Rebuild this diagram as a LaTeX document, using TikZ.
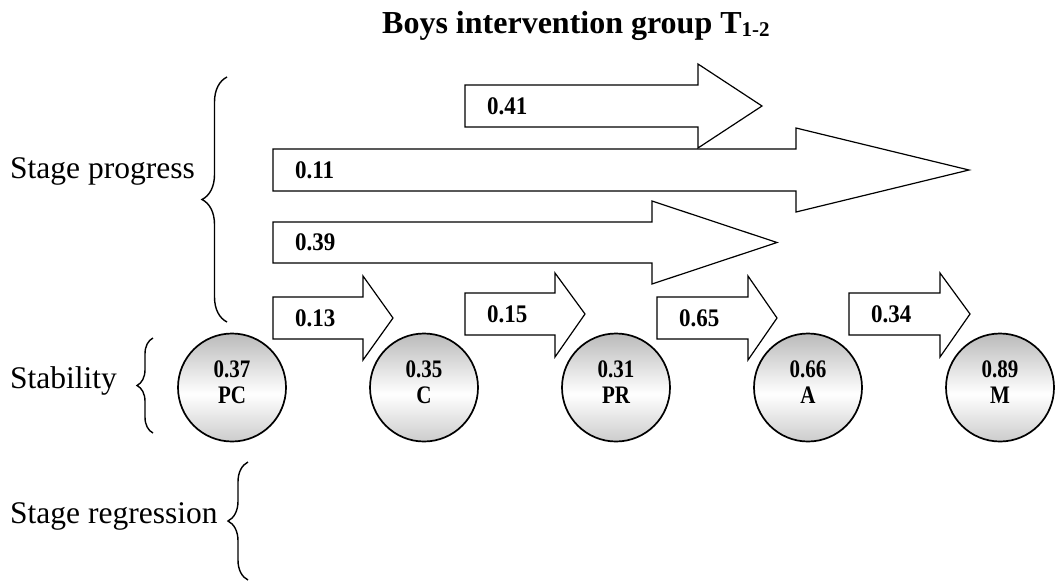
\documentclass[tikz,border=0pt]{standalone}
\usepackage{fontspec}
\setmainfont{Liberation Serif}
\usetikzlibrary{decorations.pathreplacing}
\pgfdeclareverticalshading{stageshade}{100bp}{color(0bp)=(black!20); color(25bp)=(black!20); color(47bp)=(white); color(75bp)=(black!27); color(100bp)=(black!27)}
\newcommand{\vst}[1]{\scalebox{1}[1.2]{#1}}
\newcommand{\vsa}[1]{\scalebox{1}[1.1]{#1}}
\begin{document}
\begin{tikzpicture}[x=1pt,y=-1pt,
  lab/.style={font=\fontsize{31.5}{36}\selectfont, inner sep=0pt, anchor=base west},
  alab/.style={font=\bfseries\fontsize{23}{26}\selectfont, inner sep=0pt, anchor=west},
  barrow/.style={draw=black, fill=white, line width=1.2pt, line join=miter},
  stage/.style={circle, draw=black, line width=1.7pt, minimum size=108pt, inner sep=0pt,
    shading=stageshade, shade, text depth=11pt,
    align=center, font=\bfseries\fontsize{21}{26}\selectfont},
  brc/.style={draw=black, line width=1.4pt, decorate}
]
\useasboundingbox (0,0) rectangle (1056,582);

% title
\node[font=\bfseries\fontsize{32}{40}\selectfont, anchor=base west, inner sep=0pt] (title) at (382,33)
  {Boys intervention group T{\fontsize{21}{21}\selectfont\raisebox{-3pt}{1-2}}};

% left labels
\node[lab] (sp) at (10,178) {Stage progress};
\node[lab] (st) at (10,388) {Stability};
\node[lab] (sr) at (10,523) {Stage regression};

% braces
\coordinate (b1s) at (227,322); \coordinate (b1e) at (227,77);
\draw[brc, decoration={brace, amplitude=25pt}] (b1s) -- (b1e);
\coordinate (b2s) at (153,433); \coordinate (b2e) at (153,338);
\draw[brc, decoration={brace, amplitude=16pt}] (b2s) -- (b2e);
\coordinate (b3s) at (248,580); \coordinate (b3e) at (248,462);
\draw[brc, decoration={brace, amplitude=20pt}] (b3s) -- (b3e);

% long block arrows
\draw[barrow] (465,85) -- (698,85) -- (698,64) -- (762,106) -- (698,148) -- (698,127) -- (465,127) -- cycle;
\node[alab] (l41) at (487,106) {\vsa{0.41}};
\draw[barrow] (273,149) -- (796,149) -- (796,128) -- (969,170) -- (796,212) -- (796,191) -- (273,191) -- cycle;
\node[alab] (l11) at (295,170) {\vsa{0.11}};
\draw[barrow] (273,222) -- (652,222) -- (652,201) -- (777,242.5) -- (652,284) -- (652,263) -- (273,263) -- cycle;
\node[alab] (l39) at (295,242.5) {\vsa{0.39}};

% short block arrows
\draw[barrow] (273,297) -- (363,297) -- (363,276) -- (393,318) -- (363,360) -- (363,339) -- (273,339) -- cycle;
\node[alab] (l13) at (295,318) {\vsa{0.13}};
\draw[barrow] (465,293) -- (555,293) -- (555,273) -- (585,314) -- (555,357) -- (555,335) -- (465,335) -- cycle;
\node[alab] (l15) at (487,314) {\vsa{0.15}};
\draw[barrow] (657,297) -- (748,297) -- (748,276) -- (777,318) -- (748,360) -- (748,339) -- (657,339) -- cycle;
\node[alab] (l65) at (679,318) {\vsa{0.65}};
\draw[barrow] (849,293) -- (940,293) -- (940,273) -- (970,314) -- (940,357) -- (940,335) -- (849,335) -- cycle;
\node[alab] (l34) at (871,314) {\vsa{0.34}};

% stages
\node[stage] (pc) at (232,387.5) {\vst{0.37}\\\vst{PC}};
\node[stage] (c)  at (424,387.5) {\vst{0.35}\\\vst{C}};
\node[stage] (pr) at (616,387.5) {\vst{0.31}\\\vst{PR}};
\node[stage] (a)  at (808,387.5) {\vst{0.66}\\\vst{A}};
\node[stage] (m)  at (1000,387.5) {\vst{0.89}\\\vst{M}};
\end{tikzpicture}
\end{document}
